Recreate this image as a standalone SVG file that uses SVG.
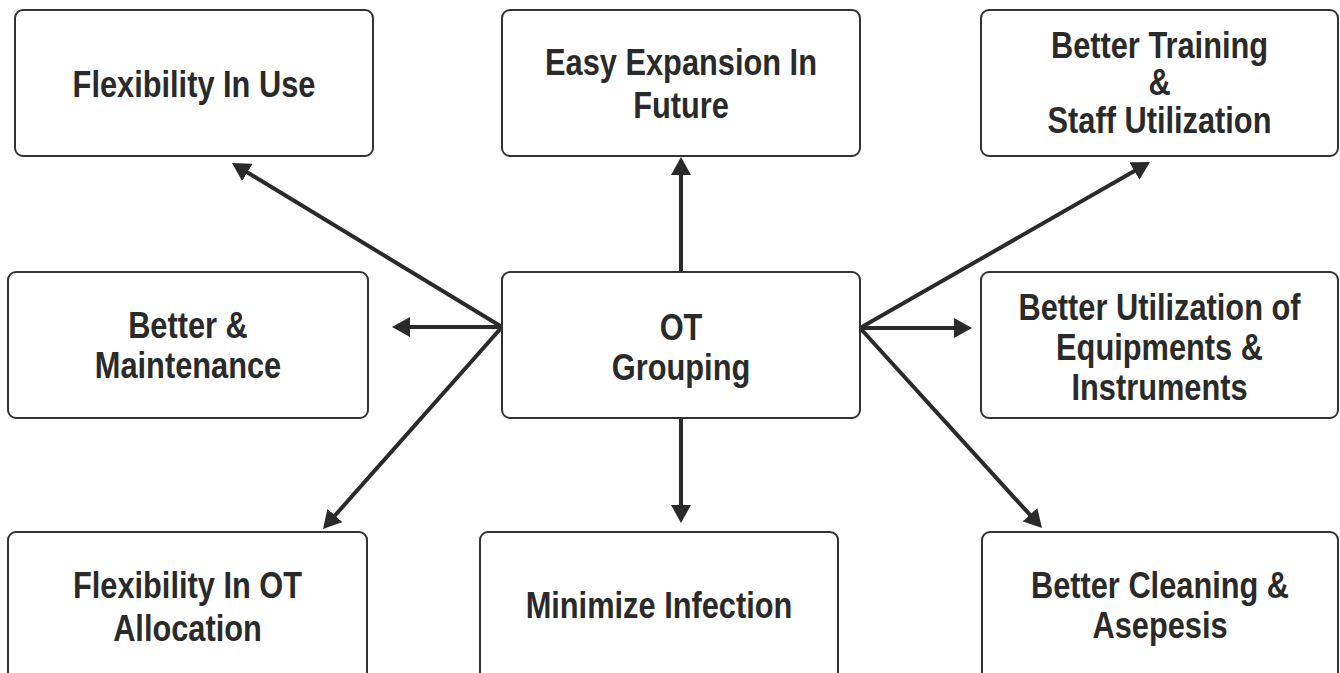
<svg xmlns="http://www.w3.org/2000/svg" width="1340" height="673" viewBox="0 0 1340 673">
<style>
.box{fill:#fff;stroke:#333;stroke-width:2}
.t{font-family:"Liberation Sans",Arial,sans-serif;font-weight:bold;font-size:36px;fill:#2a2a2a;text-anchor:middle}
.c{stroke:#2a2a2a;stroke-width:4;fill:none;marker-end:url(#ah)}
</style>
<defs>
<marker id="ah" markerUnits="userSpaceOnUse" markerWidth="18" markerHeight="20" refX="10" refY="10" orient="auto" viewBox="0 0 18 20">
<path d="M0,0 L18,10 L0,20 z" fill="#2a2a2a"/>
</marker>
</defs>
<rect width="1340" height="673" fill="#fff"/>
<g id="connectors">
<line class="c" x1="502" y1="327" x2="238.8" y2="167.2"/>
<line class="c" x1="681" y1="272" x2="681" y2="165"/>
<line class="c" x1="860" y1="328" x2="1143.1" y2="166"/>
<line class="c" x1="502" y1="327" x2="400" y2="327"/>
<line class="c" x1="860" y1="328" x2="964" y2="328"/>
<line class="c" x1="502" y1="327" x2="328.3" y2="523"/>
<line class="c" x1="681" y1="418" x2="681" y2="515"/>
<line class="c" x1="860" y1="328" x2="1036.6" y2="522.1"/>
</g>
<g id="flexibility-use">
<rect class="box" x="15" y="10" width="358" height="146" rx="8"/>
<text class="t" transform="translate(194,0) scale(0.855,1)"><tspan x="0" y="97">Flexibility In Use</tspan></text>
</g>
<g id="easy-expansion">
<rect class="box" x="502" y="10" width="358" height="146" rx="8"/>
<text class="t" transform="translate(681,0) scale(0.855,1)"><tspan x="0" y="75">Easy Expansion In</tspan><tspan x="0" y="118">Future</tspan></text>
</g>
<g id="better-training">
<rect class="box" x="981" y="10" width="357" height="146" rx="8"/>
<text class="t" transform="translate(1159.5,0) scale(0.855,1)"><tspan x="0" y="58">Better Training</tspan><tspan x="0" y="95">&amp;</tspan><tspan x="0" y="133">Staff Utilization</tspan></text>
</g>
<g id="better-maintenance">
<rect class="box" x="8" y="272" width="360" height="146" rx="8"/>
<text class="t" transform="translate(188,0) scale(0.855,1)"><tspan x="0" y="338">Better &amp;</tspan><tspan x="0" y="378">Maintenance</tspan></text>
</g>
<g id="ot-grouping">
<rect class="box" x="502" y="272" width="358" height="146" rx="8"/>
<text class="t" transform="translate(681,0) scale(0.855,1)"><tspan x="0" y="340">OT</tspan><tspan x="0" y="380">Grouping</tspan></text>
</g>
<g id="better-utilization">
<rect class="box" x="981" y="272" width="357" height="146" rx="8"/>
<text class="t" transform="translate(1159.5,0) scale(0.855,1)"><tspan x="0" y="320">Better Utilization of</tspan><tspan x="0" y="360">Equipments &amp;</tspan><tspan x="0" y="400">Instruments</tspan></text>
</g>
<g id="flexibility-ot">
<rect class="box" x="8" y="532" width="359" height="180" rx="8"/>
<text class="t" transform="translate(187.5,0) scale(0.855,1)"><tspan x="0" y="598">Flexibility In OT</tspan><tspan x="0" y="641">Allocation</tspan></text>
</g>
<g id="minimize-infection">
<rect class="box" x="480" y="532" width="358" height="180" rx="8"/>
<text class="t" transform="translate(659,0) scale(0.855,1)"><tspan x="0" y="618">Minimize Infection</tspan></text>
</g>
<g id="better-cleaning">
<rect class="box" x="982" y="532" width="356" height="180" rx="8"/>
<text class="t" transform="translate(1160,0) scale(0.855,1)"><tspan x="0" y="598">Better Cleaning &amp;</tspan><tspan x="0" y="638">Asepesis</tspan></text>
</g>
</svg>
